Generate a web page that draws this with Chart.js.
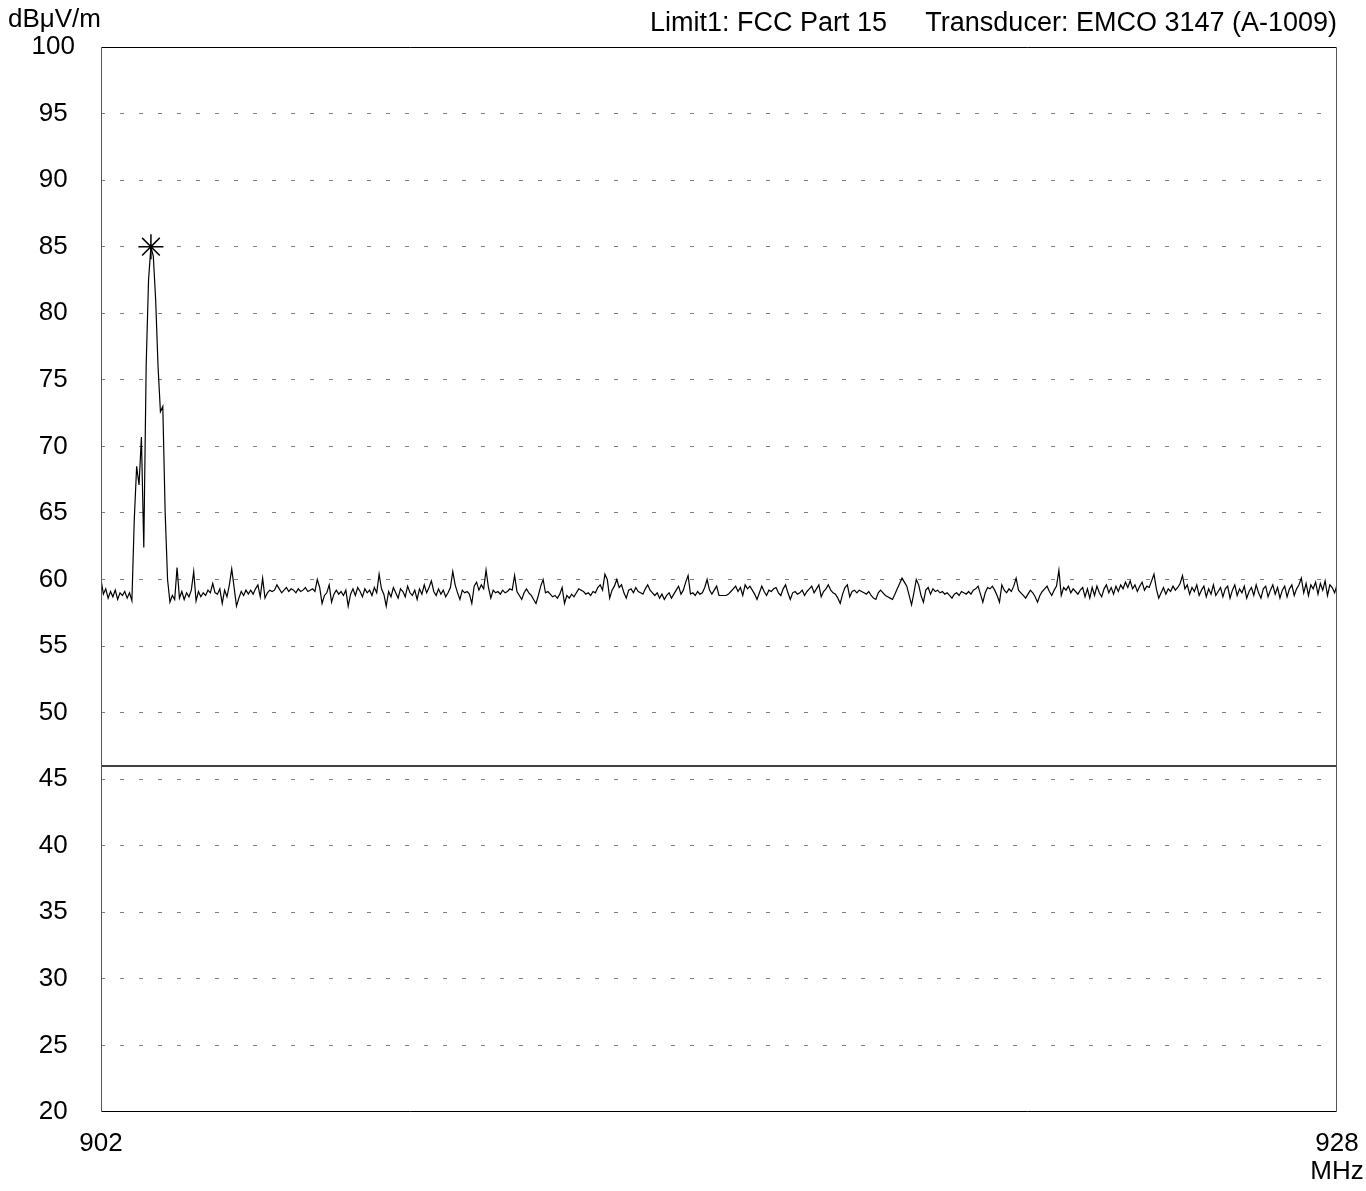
<!DOCTYPE html>
<html><head><meta charset="utf-8">
<script src="https://cdn.jsdelivr.net/npm/chart.js@4/dist/chart.umd.min.js"></script>
<style>html,body{margin:0;padding:0;background:#fff;overflow:hidden}canvas{display:block}</style>
</head><body>
<canvas id="c" width="1366" height="1191"></canvas>
<script>
// ---- data ----
const FREQ_START = 902;      // MHz, first sweep point
const FREQ_STEP = 0.05;      // MHz between sweep points
const LEVELS = [
60.0,58.9,59.3,58.6,59.1,58.7,59.2,58.5,59.0,58.8,
59.1,58.6,59.0,58.4,64.5,68.5,67.1,70.7,62.4,76.0,
82.5,85.0,84.3,81.0,76.0,72.6,73.0,65.0,60.0,58.3,
58.8,58.5,60.9,58.6,59.1,58.5,59.0,58.7,59.2,60.6,
58.4,59.1,58.7,59.0,58.8,59.2,59.0,59.7,59.0,58.9,
59.3,58.2,59.2,58.7,59.6,60.8,59.4,58.0,58.6,59.1,
58.8,59.2,58.9,59.2,58.9,59.3,59.6,58.7,60.1,58.6,
59.0,59.2,59.1,59.2,59.6,59.3,59.0,59.2,59.4,59.1,
59.3,59.2,59.0,59.3,59.1,59.2,59.4,59.1,59.2,59.3,
59.1,60.0,59.4,58.2,58.8,59.0,59.6,58.3,58.9,59.2,
58.9,59.1,58.8,59.2,58.0,58.9,59.3,58.8,59.4,59.1,
58.7,59.3,59.0,59.2,58.8,59.4,59.0,60.4,59.3,58.9,
58.0,59.1,58.7,59.4,59.0,58.6,59.3,59.1,58.7,59.5,
59.0,58.8,59.2,58.5,59.3,58.9,59.6,59.0,59.4,59.9,
59.1,58.8,59.3,58.9,59.2,58.7,59.0,59.4,60.6,59.6,
59.0,58.5,59.2,59.0,59.1,58.9,58.2,59.5,59.8,59.2,
59.6,59.3,60.7,59.4,58.6,59.2,59.0,59.1,58.9,59.2,
59.0,59.1,59.3,59.2,60.3,59.1,58.8,58.5,59.0,59.3,
59.0,58.8,58.5,58.2,58.8,59.5,60.0,59.0,59.1,58.9,
58.7,58.8,58.6,58.9,59.4,58.2,58.8,58.6,58.9,58.7,
59.0,59.3,59.2,59.1,58.9,59.0,58.8,59.1,59.0,59.4,
59.6,59.2,60.4,60.0,58.6,59.2,59.5,60.0,59.4,59.6,
59.0,58.6,59.2,59.3,59.0,59.4,59.1,59.0,58.9,59.3,
59.6,59.2,59.0,58.8,59.0,58.6,58.9,58.5,58.8,59.0,
58.6,58.9,59.2,59.5,58.9,59.2,59.8,60.3,58.9,59.0,
58.8,59.1,58.9,59.0,59.4,60.0,59.2,58.9,59.2,59.5,
58.8,58.8,58.8,58.8,58.9,59.1,59.3,59.5,59.1,59.4,
58.8,59.6,59.3,59.5,59.2,58.9,58.5,59.0,59.5,59.1,
58.8,59.2,59.1,59.3,59.4,59.0,58.8,59.3,59.6,59.0,
58.5,59.0,59.1,58.9,59.0,59.2,58.8,59.1,59.3,59.5,
59.0,59.3,59.6,58.7,59.1,59.3,59.6,59.2,59.0,58.9,
58.6,58.2,58.9,59.4,59.6,58.7,59.1,59.2,59.0,59.2,
59.1,59.0,58.9,59.1,58.8,58.6,58.5,59.0,59.2,59.0,
58.8,58.7,58.6,58.5,58.9,59.3,59.7,60.1,59.8,59.5,
58.8,58.1,59.0,60.0,59.6,58.8,58.3,59.2,59.4,58.9,
59.3,59.1,59.2,59.0,59.1,58.9,59.0,58.8,58.6,58.9,
59.0,58.8,59.1,59.0,58.9,59.1,58.9,59.2,59.3,59.5,
58.9,58.3,59.0,59.4,59.3,59.5,59.2,58.8,58.3,59.6,
59.2,59.0,59.3,59.1,59.5,60.1,59.2,59.0,58.8,58.6,
58.9,59.2,59.0,58.7,58.3,58.8,59.1,59.3,59.5,59.1,
58.8,59.2,59.5,60.7,58.8,59.4,59.2,59.5,59.0,59.3,
59.1,58.9,59.2,59.4,58.7,59.3,58.6,59.4,58.8,59.5,
59.0,58.7,59.3,59.6,59.0,59.4,58.9,59.5,59.1,59.6,
59.3,59.8,59.4,59.9,59.3,59.6,59.1,59.5,59.8,59.2,
59.5,59.4,59.9,60.4,59.3,58.6,59.0,59.4,58.9,59.3,
59.1,59.5,59.2,59.4,59.7,60.3,59.3,59.6,58.9,59.4,
59.1,59.6,58.8,59.2,59.5,58.7,59.3,58.9,59.6,58.8,
59.1,59.4,58.7,59.3,59.5,58.6,59.2,59.6,58.8,59.3,
59.0,59.5,58.6,59.1,59.4,58.8,59.6,59.0,58.6,59.3,
59.5,58.7,59.2,59.6,58.9,59.4,58.6,59.2,59.5,58.7,
59.3,59.6,58.8,59.3,59.6,60.1,59.0,59.7,58.8,59.6,
59.3,59.8,58.9,59.7,59.2,59.9,58.8,59.6,59.4,59.0,
59.6
];
const LIMIT_FREQS = [902, 928];
const LIMIT_LEVELS = [46, 46];
const MARKER_FREQS = [903.05];
const MARKER_LEVELS = [85.0];
const X_TICKS = [902, 928];
const Y_MIN = 20, Y_MAX = 100, Y_STEP = 5;
const Y_UNIT = 'dBμV/m';
const X_UNIT = 'MHz';
const HEADER_LIMIT = 'Limit1: FCC Part 15';
const HEADER_TRANSDUCER = 'Transducer: EMCO 3147 (A-1009)';

// ---- chart ----
const FONT = "'Liberation Sans', Arial, sans-serif";
const tracePts = LEVELS.map((v, i) => ({ x: +(FREQ_START + i * FREQ_STEP).toFixed(4), y: v }));
const limitPts = LIMIT_FREQS.map((f, i) => ({ x: f, y: LIMIT_LEVELS[i] }));
const markerPts = MARKER_FREQS.map((f, i) => ({ x: f, y: MARKER_LEVELS[i] }));

const framePlugin = {
  id: 'frame',
  afterDraw(chart) {
    const { ctx, chartArea: a } = chart;
    ctx.save();
    ctx.lineWidth = 1;
    const L = Math.round(a.left) + 0.5, R = Math.round(a.right) - 0.5;
    const T = Math.round(a.top) + 0.5, B = Math.round(a.bottom) - 0.5;
    ctx.strokeStyle = '#000';
    ctx.beginPath(); ctx.moveTo(L, T); ctx.lineTo(R, T); ctx.stroke();
    ctx.beginPath(); ctx.moveTo(L, B); ctx.lineTo(R, B); ctx.stroke();
    ctx.strokeStyle = '#555';
    ctx.beginPath(); ctx.moveTo(L, T); ctx.lineTo(L, B); ctx.stroke();
    ctx.beginPath(); ctx.moveTo(R, T); ctx.lineTo(R, B); ctx.stroke();
    ctx.fillStyle = '#000';
    ctx.textBaseline = 'alphabetic';
    ctx.font = '26px ' + FONT;
    ctx.textAlign = 'left';
    ctx.fillText(Y_UNIT, 8, 27);
    ctx.font = '27px ' + FONT;
    ctx.textAlign = 'right';
    ctx.fillText(HEADER_LIMIT, 887, 31);
    ctx.fillText(HEADER_TRANSDUCER, Math.round(a.right), 31);
    ctx.restore();
  }
};

new Chart(document.getElementById('c'), {
  type: 'scatter',
  data: {
    datasets: [
      { data: tracePts, showLine: true, borderColor: '#000', borderWidth: 1.2, pointRadius: 0, tension: 0, order: 2 },
      { data: limitPts, showLine: true, borderColor: '#000', borderWidth: 1.5, pointRadius: 0, tension: 0, order: 1 },
      { data: markerPts, showLine: false, pointStyle: 'star', pointRadius: 12.5, borderColor: '#000', borderWidth: 1.5, backgroundColor: '#000', order: 0 }
    ]
  },
  options: {
    responsive: false,
    animation: false,
    devicePixelRatio: 1,
    layout: { padding: { left: 0, right: 29, top: 47, bottom: 0 } },
    plugins: { legend: { display: false }, tooltip: { enabled: false } },
    scales: {
      x: {
        type: 'linear', min: FREQ_START, max: X_TICKS[X_TICKS.length - 1],
        afterBuildTicks: s => { s.ticks = X_TICKS.map(v => ({ value: v })); },
        afterFit: s => { s.height = 79; s.paddingLeft = 0; s.paddingRight = 0; },
        grid: { display: false, drawTicks: false },
        border: { display: false },
        ticks: {
          padding: 18, maxRotation: 0, autoSkip: false, color: '#000',
          font: { family: FONT, size: 26, lineHeight: 1.08 },
          callback: v => (v === X_TICKS[X_TICKS.length - 1] ? [String(v), X_UNIT] : String(v))
        }
      },
      y: {
        min: Y_MIN, max: Y_MAX,
        afterFit: s => { s.width = 101; s.paddingTop = 0; s.paddingBottom = 0; },
        grid: {
          color: c => (c.tick && (c.tick.value === Y_MIN || c.tick.value === Y_MAX)) ? 'rgba(0,0,0,0)' : '#808080',
          lineWidth: 1, drawTicks: false
        },
        border: { display: false, dash: [4, 15] },
        ticks: {
          stepSize: Y_STEP, padding: 26, crossAlign: 'center', color: '#000',
          font: { family: FONT, size: 26 }
        }
      }
    }
  },
  plugins: [framePlugin]
});
</script>
</body></html>
